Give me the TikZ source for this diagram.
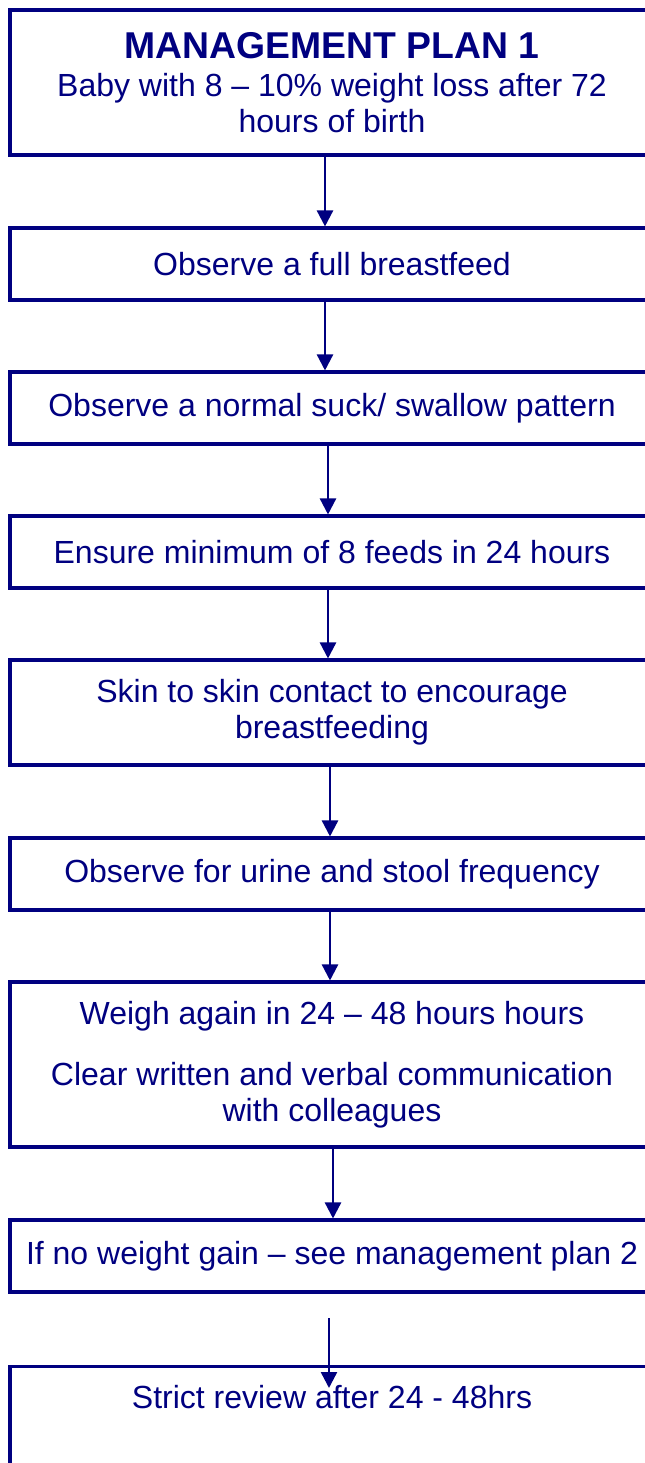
\documentclass[tikz,border=0pt]{standalone}
\usepackage{fontspec}
\setmainfont{Liberation Sans}
\usepackage{xcolor}
\usepackage{tikz}
\usetikzlibrary{arrows.meta, positioning, calc}
\definecolor{planblue}{RGB}{0,0,128}

\begin{document}
\begin{tikzpicture}[x=0.75pt,y=-0.75pt,
  planbox/.style={draw=planblue,line width=2.3pt,text=planblue,align=center,
    minimum width=483pt,inner sep=0pt,font=\fontsize{24}{27}\selectfont},
  flow/.style={draw=planblue,line width=1.8pt,-{Triangle[length=12pt,width=12pt]}}]
\useasboundingbox (0,0) rectangle (645,1463);
\clip (0,0) rectangle (645,1463);

% Draw boxes
\node[planbox,minimum height=108.75pt,text depth=-1.5pt] (b1) at (332,82.5)
  {{\fontsize{28}{30}\selectfont\bfseries MANAGEMENT PLAN 1}\\[1pt]
   Baby with 8 – 10\% weight loss after 72\\hours of birth};
\node[planbox,minimum height=54pt] (b2) at (332,264) {Observe a full breastfeed};
\node[planbox,minimum height=54pt] (b3) at (332,408) {Observe a normal suck/ swallow pattern};
\node[planbox,minimum height=54pt] (b4) at (332,552) {Ensure minimum of 8 feeds in 24 hours};
\node[planbox,minimum height=78.75pt] (b5) at (332,712.5)
  {Skin to skin contact to encourage\\breastfeeding};
\node[planbox,minimum height=54pt] (b6) at (332,874) {Observe for urine and stool frequency};
\node[planbox,minimum height=123.75pt] (b7) at (332,1064.5)
  {Weigh again in 24 – 48 hours hours\\[19pt]
   Clear written and verbal communication\\with colleagues};
\node[planbox,minimum height=54pt] (b8) at (332,1256) {If no weight gain – see management plan 2};
\node[planbox,anchor=north,inner ysep=14pt,text depth=120pt] (b9) at (332,1365)
  {Strict review after 24 - 48hrs};

% Draw arrows
\foreach \a/\b/\d in {b1/b2/-7, b2/b3/-7, b3/b4/-4, b4/b5/-4, b5/b6/-2, b6/b7/-2, b7/b8/1} {
    \draw[flow] ([xshift=\d*0.75pt]\a.south) -- ([xshift=\d*0.75pt]\b.north);
}
\coordinate (gapTop) at (329,1318);
\coordinate (gapEnd) at (329,1388);
\draw[flow] (gapTop) -- (gapEnd);
\end{tikzpicture}
\end{document}
